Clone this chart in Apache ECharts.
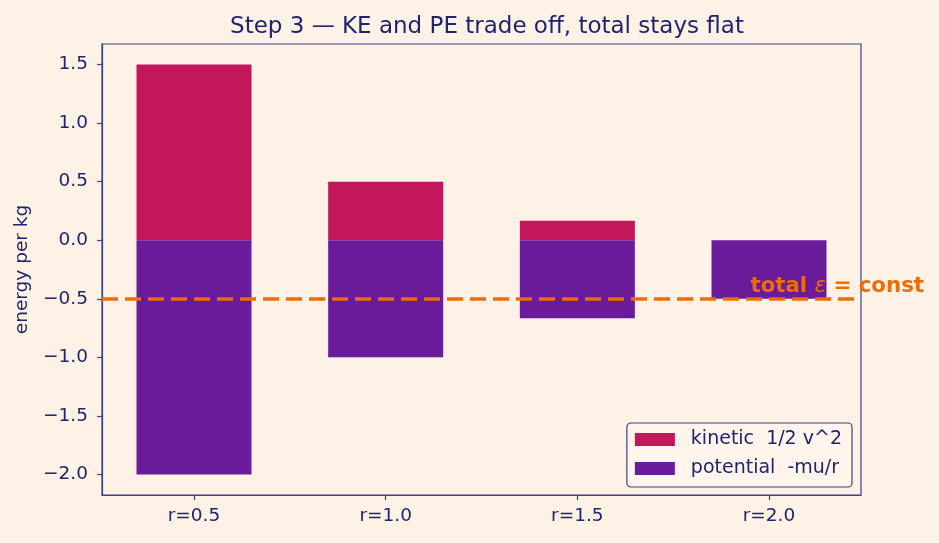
<!DOCTYPE html>
<html>
<head>
<meta charset="utf-8">
<script src="https://cdn.jsdelivr.net/npm/echarts@6/dist/echarts.min.js"></script>
<style>
html, body {margin: 0; padding: 0; background: #fef2e6;}
#chart {width: 939px; height: 543px;}
</style>
</head>
<body>
<div id="chart"></div>
<script>
// data
var aRadius = ['r=0.5', 'r=1.0', 'r=1.5', 'r=2.0'];
var aKinetic = [1.5, 0.5, 0.1667, 0.0];
var aPotential = [-2.0, -1.0, -0.6667, -0.5];
var fTotal = -0.5;
var aYTicks = [-2.0, -1.5, -1.0, -0.5, 0.0, 0.5, 1.0, 1.5];
var aXTicks = [0, 1, 2, 3];

var sInk = '#1f2370';
var sSpine = '#3c4088';
var sFont = 'DejaVu Sans';

function toPoints(arr) {
	return arr.map(function (v, i) { return [i, v]; });
}

function fmtY(v) {
	return v.toFixed(1).replace('-', '\u2212');
}

var oChart = echarts.init(document.getElementById('chart'));
oChart.setOption({
	backgroundColor: '#fef2e6',
	animation: false,
	title: {
		text: 'Step 3 \u2014 KE and PE trade off, total stays flat',
		left: 482,
		top: 11,
		textAlign: 'center',
		textStyle: {color: sInk, fontSize: 23, fontWeight: 'normal', fontFamily: sFont}
	},
	grid: {
		left: 102, right: 78, top: 44, bottom: 48,
		show: true, borderColor: sSpine, borderWidth: 1.2,
		backgroundColor: 'transparent'
	},
	legend: {
		right: 87, bottom: 56,
		orient: 'vertical',
		icon: 'rect',
		itemWidth: 40, itemHeight: 13,
		itemGap: 10,
		padding: [7, 10, 9, 8],
		backgroundColor: '#fff5ec',
		borderColor: sSpine, borderWidth: 1.2, borderRadius: 4,
		textStyle: {color: sInk, fontSize: 19, fontFamily: sFont, padding: [0, 0, 0, 11]},
		data: ['kinetic  1/2 v^2', 'potential  -mu/r']
	},
	xAxis: {
		type: 'value',
		min: -0.48, max: 3.48,
		axisLine: {show: true, onZero: false, lineStyle: {color: sSpine, width: 1.2}},
		axisTick: {show: true, customValues: aXTicks, length: 5, lineStyle: {color: sSpine, width: 1.2}},
		axisLabel: {
			customValues: aXTicks, color: sInk, fontSize: 18.5, margin: 12, fontFamily: sFont,
			formatter: function (v) { return aRadius[Math.round(v)]; }
		},
		splitLine: {show: false}
	},
	yAxis: {
		type: 'value',
		min: -2.175, max: 1.675,
		name: 'energy per kg',
		nameLocation: 'middle',
		nameGap: 70,
		nameTextStyle: {color: sInk, fontSize: 18.5, fontFamily: sFont},
		axisLine: {show: true, onZero: false, lineStyle: {color: sSpine, width: 1.2}},
		axisTick: {show: true, customValues: aYTicks, length: 5, lineStyle: {color: sSpine, width: 1.2}},
		axisLabel: {
			customValues: aYTicks, color: sInk, fontSize: 18.5, margin: 14, fontFamily: sFont,
			formatter: fmtY
		},
		splitLine: {show: false}
	},
	series: [
		{
			name: 'kinetic  1/2 v^2',
			type: 'bar',
			stack: 'e',
			barWidth: 115,
			itemStyle: {color: '#c2185b'},
			data: toPoints(aKinetic)
		},
		{
			name: 'potential  -mu/r',
			type: 'bar',
			stack: 'e',
			barWidth: 115,
			itemStyle: {color: '#6a1b9a'},
			data: toPoints(aPotential),
			markLine: {
				silent: true,
				symbol: 'none',
				z: 10,
				lineStyle: {color: '#ef6c00', width: 3.5, type: [16, 7]},
				label: {
					show: true,
					position: 'insideEndTop',
					offset: [68, 3],
					formatter: '{b|total }{e|\u03b5}{b| = const}',
					rich: {
						b: {color: '#ef6c00', fontSize: 21.3, fontWeight: 'bold', fontFamily: sFont},
						e: {color: '#ef6c00', fontSize: 21.3, fontStyle: 'italic', fontFamily: sFont}
					}
				},
				data: [{yAxis: fTotal}]
			}
		}
	]
});
</script>
</body>
</html>
